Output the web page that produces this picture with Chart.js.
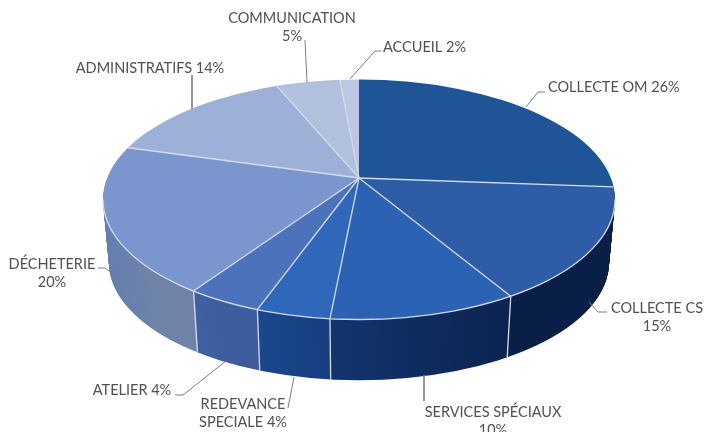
<!DOCTYPE html>
<html>
<head>
<meta charset="utf-8">
<title>Répartition</title>
<script src="https://cdn.jsdelivr.net/npm/chart.js@4/dist/chart.umd.min.js"></script>
<style>
  html, body { margin: 0; padding: 0; background: #fff; }
  canvas { display: block; }
</style>
</head>
<body>
<canvas id="pie" width="705" height="432"></canvas>
<script>
var categories = ["COLLECTE OM", "COLLECTE CS", "SERVICES SPÉCIAUX", "REDEVANCE SPECIALE", "ATELIER", "DÉCHETERIE", "ADMINISTRATIFS", "COMMUNICATION", "ACCUEIL"];
// percentages as printed on the labels
var printedPercents = [26, 15, 10, 4, 4, 20, 14, 5, 2];
// wedge sizes as measured on the picture (perspective makes them differ a bit from the printed figures)
var sliceSizes = [26.0, 14.2, 11.6, 4.6, 4.4, 19.4, 14.5, 4.1, 1.2];

var labelLines = [
    ["COLLECTE OM " + printedPercents[0] + "%"],
    ["COLLECTE CS", printedPercents[1] + "%"],
    ["SERVICES SPÉCIAUX", printedPercents[2] + "%"],
    ["REDEVANCE", "SPECIALE " + printedPercents[3] + "%"],
    ["ATELIER " + printedPercents[4] + "%"],
    ["DÉCHETERIE", printedPercents[5] + "%"],
    ["ADMINISTRATIFS " + printedPercents[6] + "%"],
    ["COMMUNICATION", printedPercents[7] + "%"],
    ["ACCUEIL " + printedPercents[8] + "%"]
];

var topColors = ["#1f5596", "#2f5ca6", "#2b62b4", "#2f68ba", "#4c72bc", "#7b95cf", "#9db1d8", "#b1c0dd", "#bcc8e1"];
// wall colours, left to right
var wallColors = [
    ["#0a1f45", "#0a1f45"], ["#0a1f48", "#0b1f46"], ["#12356f", "#0b2049"], ["#1b4a92", "#173f80"],
    ["#4465a6", "#3c5c9e"], ["#5579b8", "#6f83a8"], ["#6f83a8", "#6f83a8"], ["#6f83a8", "#6f83a8"], ["#6f83a8", "#6f83a8"]
];

// label anchors and leader polylines, in canvas pixels
var labelStyle = [
    { x: 548, y: 92, align: "left" },
    { x: 657, y: 313, align: "center" },
    { x: 493, y: 417, align: "center" },
    { x: 243, y: 409, align: "center" },
    { x: 132, y: 395, align: "center" },
    { x: 52, y: 269, align: "center" },
    { x: 150, y: 73, align: "center" },
    { x: 292, y: 23, align: "center" },
    { x: 383, y: 52, align: "left" }
];
var leaders = [
    [[545, 92], [538, 92], [526, 107]],
    [[607, 312], [598, 312], [589, 302]],
    [[424, 401], [424, 375]],
    [[288, 408], [294, 377]],
    [[175, 395], [183, 395], [226, 361]],
    [[98, 268], [105, 268], [113, 274]],
    [[192, 75], [192, 109]],
    [[305, 40], [307, 82]],
    [[381, 51], [375, 51], [350, 79]]
];
var leaderWidths = [1, 1, 1.6, 1, 1, 1, 1.6, 1, 1];

var RADIUS = 256, FACE_RY = 120, CENTER_DROP = 21.5;  // the face ellipse sits below the point the wedges meet at
var DIR_RY_BACK = 99, DIR_RY_FRONT = 141;             // flattening used for wedge directions
var DEPTH = 64, BOTTOM_SHRINK = 6, OVERSCAN = 1.25;
var SEAM = "#d3dbe8";

function shrink(k) {
    return 1 - (k / DEPTH) * (BOTTOM_SHRINK / RADIUS);
}

// wedges drawn oversize from the apex, one half plane at a time, cut by the face ellipse
function drawFace(ctx, arcs, cx, cy, k, s, backHalf, paint) {
    ctx.save();
    ctx.beginPath();
    ctx.ellipse(cx, cy + k + CENTER_DROP * s, RADIUS * s, FACE_RY * s, 0, 0, Math.PI * 2);
    ctx.clip();
    ctx.beginPath();
    if (backHalf) ctx.rect(0, 0, 705, cy + k);
    else ctx.rect(0, cy + k, 705, 432);
    ctx.clip();
    ctx.translate(cx, cy + k);
    ctx.scale(OVERSCAN * s, OVERSCAN * s * (backHalf ? DIR_RY_BACK : DIR_RY_FRONT) / RADIUS);
    ctx.translate(-cx, -cy);
    arcs.forEach(paint);
    ctx.restore();
}

// where the ray from the apex at this wedge angle meets the face ellipse
function rimPoint(el, angle, k) {
    var s = shrink(k);
    var sin = Math.sin(angle);
    var dx = Math.cos(angle);
    var dy = sin * (sin < 0 ? DIR_RY_BACK : DIR_RY_FRONT) / RADIUS;
    var rx = RADIUS * s, ry = FACE_RY * s, c = CENTER_DROP * s;
    var A = dx * dx / (rx * rx) + dy * dy / (ry * ry);
    var B = -2 * dy * c / (ry * ry);
    var C = c * c / (ry * ry) - 1;
    var t = (-B + Math.sqrt(B * B - 4 * A * C)) / (2 * A);
    return { x: el.x + t * dx, y: el.y + k + t * dy };
}

var pie3d = {
    id: "pie3d",
    beforeDatasetDraw: function (chart, args) {
        var ctx = chart.ctx;
        var arcs = args.meta.data;
        var cx = arcs[0].x, cy = arcs[0].y;
        var i, k;

        // side wall: the same arcs stacked from the bottom up
        var fills = arcs.map(function (el, j) {
            var a = rimPoint(el, el.startAngle, 0).x;
            var b = rimPoint(el, el.endAngle, 0).x;
            var lo = Math.min(a, b), hi = Math.max(a, b);
            if (Math.cos(el.startAngle) < 0 && Math.cos(el.endAngle) < 0 && Math.sin(el.startAngle) * Math.sin(el.endAngle) < 0) lo = cx - RADIUS;
            var g = ctx.createLinearGradient(lo, 0, hi + 1, 0);
            g.addColorStop(0, wallColors[j][0]);
            g.addColorStop(1, wallColors[j][1]);
            return g;
        });
        for (k = DEPTH; k >= 1; k--) {
            drawFace(ctx, arcs, cx, cy, k, shrink(k), false, function (el) {
                var saved = el.options;
                el.options = Object.assign({}, saved, { backgroundColor: fills[arcs.indexOf(el)] });
                el.draw(ctx);
                el.options = saved;
            });
        }

        // top face
        var plain = function (el) { el.draw(ctx); };
        drawFace(ctx, arcs, cx, cy, 0, 1, true, plain);
        drawFace(ctx, arcs, cx, cy, 0, 1, false, plain);

        ctx.save();
        ctx.strokeStyle = SEAM;
        ctx.lineWidth = 1.3;
        // wall seams
        for (i = 1; i < arcs.length; i++) {
            var angle = arcs[i].startAngle;
            if (Math.sin(angle) <= 0.1) continue;
            var p0 = rimPoint(arcs[i], angle, 0), p1 = rimPoint(arcs[i], angle, DEPTH);
            ctx.beginPath();
            ctx.moveTo(p0.x, p0.y);
            ctx.lineTo(p1.x, p1.y);
            ctx.stroke();
        }
        // spokes on the top face
        for (i = 1; i < arcs.length; i++) {
            var p = rimPoint(arcs[i], arcs[i].startAngle, 0);
            ctx.beginPath();
            ctx.moveTo(cx, cy);
            ctx.lineTo(p.x, p.y);
            ctx.stroke();
        }
        // front rim
        ctx.beginPath();
        ctx.ellipse(cx, cy + CENTER_DROP, RADIUS, FACE_RY, 0, 0, Math.PI);
        ctx.stroke();
        ctx.restore();
        return false;
    },
    afterDraw: function (chart) {
        var ctx = chart.ctx;
        ctx.save();
        ctx.strokeStyle = "#7d7d7d";
        leaders.forEach(function (pts, n) {
            ctx.lineWidth = leaderWidths[n];
            ctx.beginPath();
            pts.forEach(function (pt, i) {
                if (i === 0) ctx.moveTo(pt[0], pt[1]);
                else ctx.lineTo(pt[0], pt[1]);
            });
            ctx.stroke();
        });
        ctx.fillStyle = "#505050";
        ctx.font = "14.5px Lato";
        labelLines.forEach(function (lines, i) {
            ctx.textAlign = labelStyle[i].align;
            lines.forEach(function (line, n) {
                ctx.fillText(line, labelStyle[i].x, labelStyle[i].y + n * 18);
            });
        });
        ctx.restore();
    }
};

new Chart(document.getElementById("pie"), {
    type: "pie",
    data: {
        labels: categories,
        datasets: [{
            data: sliceSizes,
            backgroundColor: topColors,
            borderWidth: 0,
            radius: RADIUS
        }]
    },
    options: {
        responsive: false,
        animation: false,
        layout: { padding: { left: 13, bottom: 76 } },
        plugins: { legend: { display: false }, tooltip: { enabled: false } }
    },
    plugins: [pie3d]
});
</script>
</body>
</html>
